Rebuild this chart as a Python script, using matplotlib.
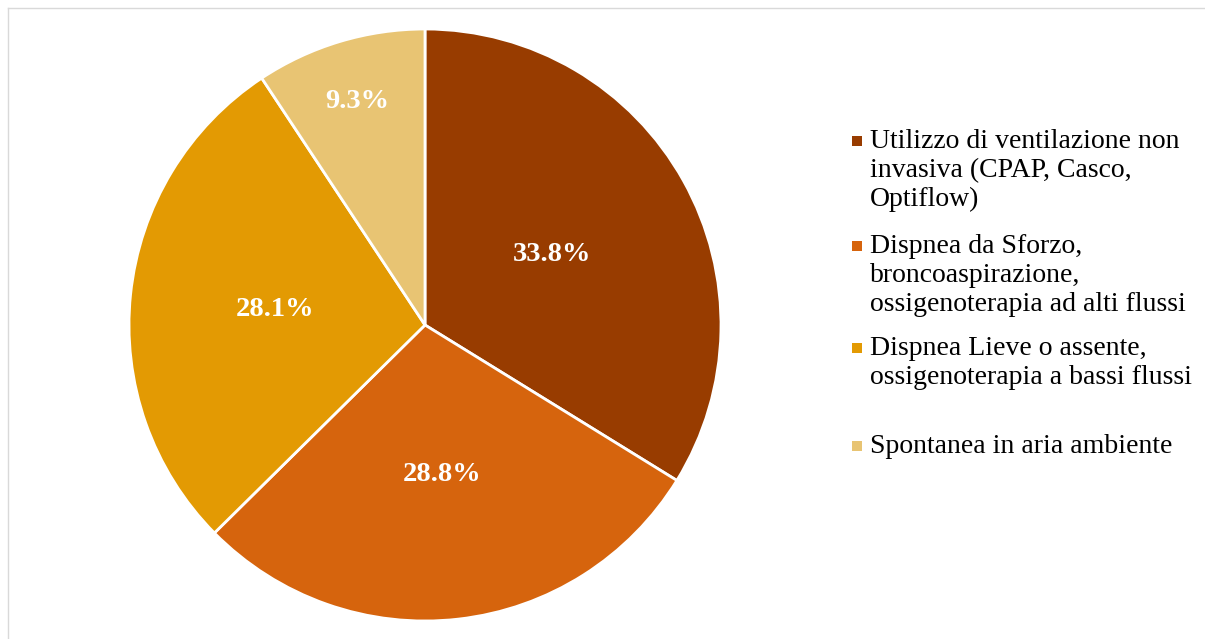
import matplotlib.pyplot as plt
import numpy as np
from matplotlib.patches import Rectangle
from matplotlib.lines import Line2D

# data
categories = [
    "Utilizzo di ventilazione non\ninvasiva (CPAP, Casco,\nOptiflow)",
    "Dispnea da Sforzo,\nbroncoaspirazione,\nossigenoterapia ad alti flussi",
    "Dispnea Lieve o assente,\nossigenoterapia a bassi flussi",
    "Spontanea in aria ambiente",
]
values = [33.8, 28.8, 28.1, 9.3]
pct_labels = ["33.8%", "28.8%", "28.1%", "9.3%"]

colors = ["#983C00", "#D6640D", "#E39A03", "#E8C473"]
label_dist = [0.49, 0.51, 0.51, 0.79]

W, H = 1205, 639
fig = plt.figure(figsize=(W / 100, H / 100), dpi=100)
plt.rcParams['font.family'] = ['Liberation Serif', 'DejaVu Serif']

# pie: centre (425, 325) px, radius 296 px
cx, cy, r = 425, 325, 296
ax = fig.add_axes([(cx - r) / W, (H - cy - r) / H, 2 * r / W, 2 * r / H])
wedges, _ = ax.pie(values, colors=colors, startangle=90, counterclock=False,
                   radius=1, wedgeprops=dict(edgecolor='white', linewidth=2))
ax.set_xlim(-1, 1)
ax.set_ylim(-1, 1)
ax.set_aspect('equal')

for w, lab, d in zip(wedges, pct_labels, label_dist):
    ang = np.deg2rad((w.theta1 + w.theta2) / 2)
    ax.text(d * np.cos(ang), d * np.sin(ang), lab, ha='center', va='center',
            color='white', fontsize=20.5, fontweight='bold')

# legend drawn by hand (first-line baseline in px, line step 29 px)
baselines = [148, 253, 355, 453]
for lab, col, yb in zip(categories, colors, baselines):
    fig.patches.append(Rectangle((852 / W, 1 - (yb - 2) / H), 10 / W, 10 / H,
                                 transform=fig.transFigure, facecolor=col,
                                 edgecolor='none'))
    for i, line in enumerate(lab.split('\n')):
        fig.text(870 / W, 1 - (yb + 29 * i) / H, line, ha='left',
                 va='baseline', fontsize=20, color='black')

# light frame (top and left)
fig.lines.append(Line2D([8 / W, 1], [1 - 8 / H, 1 - 8 / H],
                        transform=fig.transFigure, color='#D9D9D9', lw=1))
fig.lines.append(Line2D([8 / W, 8 / W], [0, 1 - 8 / H],
                        transform=fig.transFigure, color='#D9D9D9', lw=1))

fig.savefig('out.png', dpi=100)
